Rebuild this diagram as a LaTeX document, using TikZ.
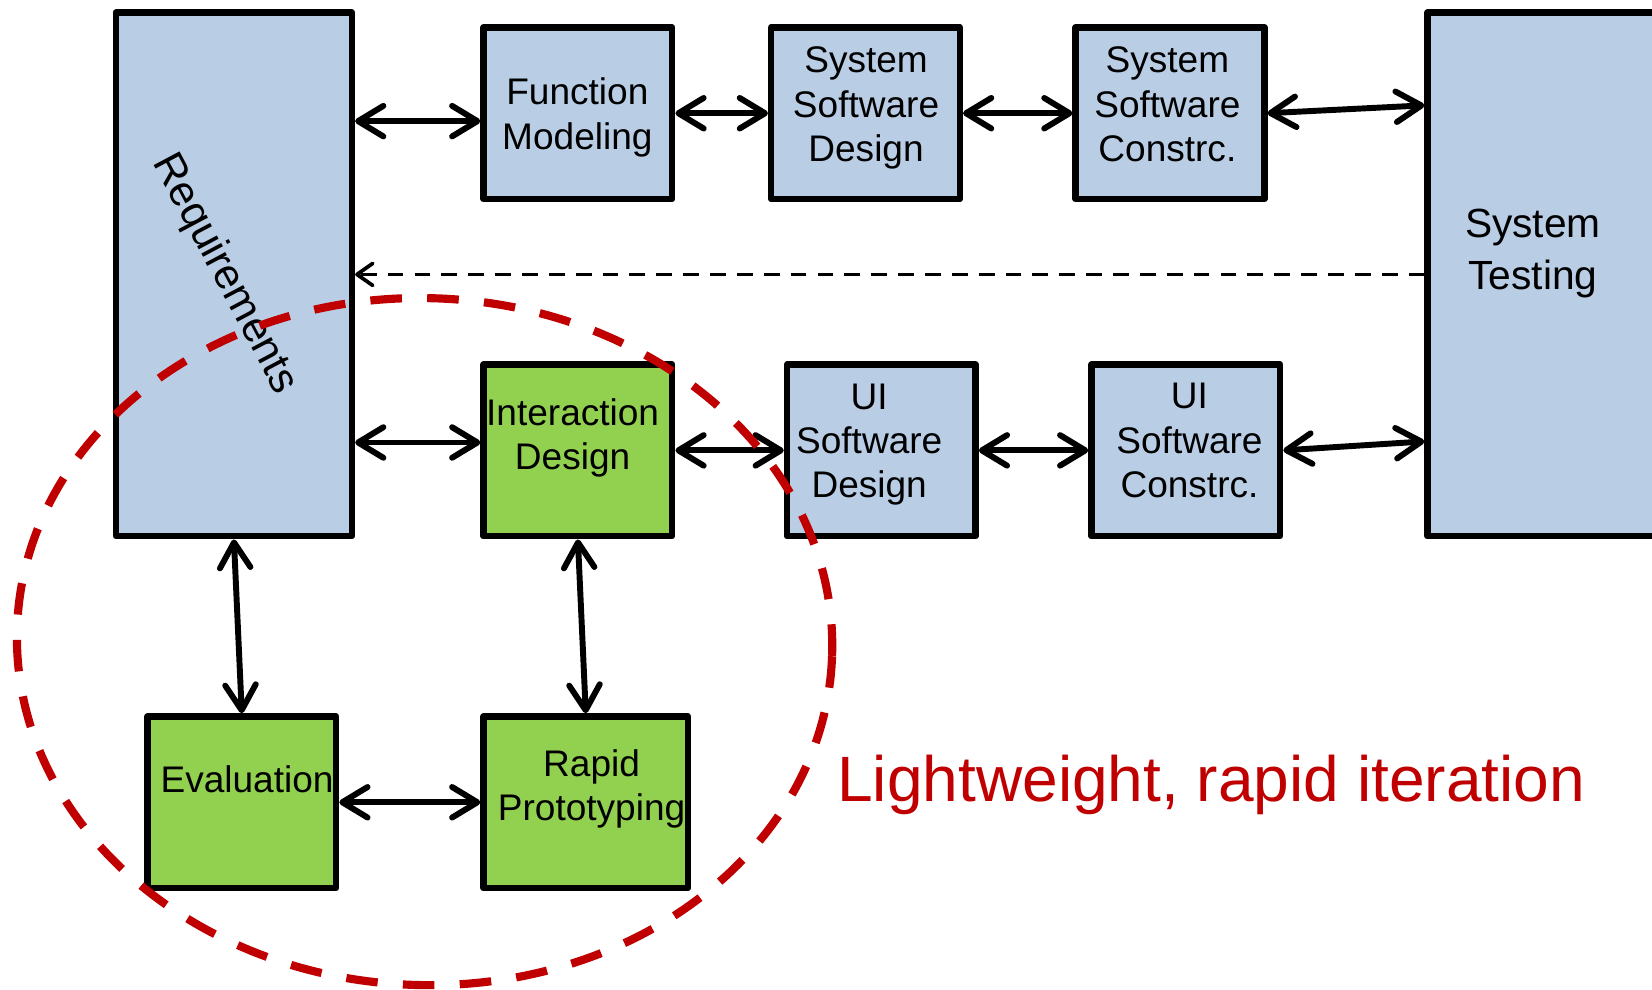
\documentclass[tikz,border=0pt]{standalone}
\usepackage{fontspec}
\setmainfont{Liberation Sans}
\usetikzlibrary{arrows.meta, shapes.geometric}
\definecolor{boxblue}{RGB}{185,205,229}
\definecolor{boxgreen}{RGB}{146,208,80}
\definecolor{loopred}{RGB}{192,0,0}

\begin{document}
\begin{tikzpicture}
	[%
	sw/.style   ={rectangle,	draw=black,	fill=boxblue,	line width=1.75pt,	line join=round,	inner sep=0pt,	minimum width=1.79cm,	minimum height=1.63cm},%
	ux/.style   ={sw,	fill=boxgreen},%
	txt/.style  ={align=center,	inner sep=0pt,	font=\fontsize{10}{12}\selectfont},%
	link/.style ={<->,	line width=1.6pt,	>={Straight Barb[length=2.4mm, width=2.9mm, round]}},%
	fb/.style   ={->,	line width=1pt,	dash pattern=on 1.5mm off 1.05mm,	>={Straight Barb[length=1.5mm, width=2.1mm, round]}},%
	loopline/.style={draw=loopred,	line width=2.2pt,	dash pattern=on 3mm off 2.4mm},%
	]
	\useasboundingbox (0,0) rectangle (15.68,9.39);

	% nodes
	\node (req)  at (2.22,6.785)   [sw, minimum width=2.24cm, minimum height=4.97cm] {};
	\node (fm)   at (5.485,8.315)  [sw] {};
	\node (ssd)  at (8.215,8.315)  [sw] {};
	\node (ssc)  at (11.105,8.315) [sw] {};
	\node (st)   at (15.375,6.785) [sw, minimum width=3.65cm, minimum height=4.97cm] {};

	\node (ixd)  at (5.485,5.115)  [ux] {};
	\node (uisd) at (8.365,5.115)  [sw] {};
	\node (uisc) at (11.255,5.115) [sw] {};

	\node (eval) at (2.295,1.775)  [ux] {};
	\node (rp)   at (5.56,1.775)   [ux, minimum width=1.94cm] {};

	% texts
	\node (reqtext)  at (2.13,6.79)   [txt, rotate=-62, font=\fontsize{11.5}{12}\selectfont] {Requirements};
	\node (fmtext)   at (5.48,8.275)  [txt] {Function\\Modeling};
	\node (ssdtext)  at (8.22,8.365)  [txt] {System\\Software\\Design};
	\node (ssctext)  at (11.08,8.40)  [txt] {System\\Software\\Constrc.};
	\node (sttext)   at (14.55,6.985) [txt, font=\fontsize{11}{14}\selectfont] {System\\Testing};
	\node (ixdtext)  at (5.435,5.235) [txt] {Interaction\\Design};
	\node (uisdtext) at (8.25,5.17)   [txt] {UI\\Software\\Design};
	\node (uisctext) at (11.29,5.207) [txt] {UI\\Software\\Constrc.};
	\node (evaltext) at (2.345,1.99)  [txt] {Evaluation};
	\node (rptext)   at (5.615,1.90)  [txt] {Rapid\\Prototyping};

	% interconnections
	\coordinate (reqA) at ([yshift=14.55mm]req.east);
	\coordinate (reqB) at ([yshift=-15.95mm]req.east);
	\coordinate (stA)  at ([yshift=16.05mm]st.west);
	\coordinate (stB)  at ([yshift=-15.85mm]st.west);

	\draw [link] (reqA) -- (reqA -| fm.west);
	\draw [link] (fm) -- (ssd);
	\draw [link] (ssd) -- (ssc);
	\draw [link] (ssc.east) -- (stA);

	\draw [link] (reqB) -- (reqB -| ixd.west);
	\draw [link] (ixd) -- (uisd);
	\draw [link] (uisd) -- (uisc);
	\draw [link] (uisc.east) -- (stB);

	\draw [link] (req.south) -- (eval.north);
	\draw [link] (ixd.south) -- (rp.north);
	\draw [link] (eval) -- (rp);

	\draw [fb] (st) -- (req);

	% iteration loop
	\draw [loopline, rotate around={-2:(4.03,3.30)}] (4.03,3.30) ellipse (3.87 and 3.26);
	\node (iter) at (7.94,1.78) [anchor=base west, inner sep=0pt, text=loopred, font=\fontsize{17.3}{20}\selectfont] {Lightweight, rapid iteration};

\end{tikzpicture}
\end{document}
